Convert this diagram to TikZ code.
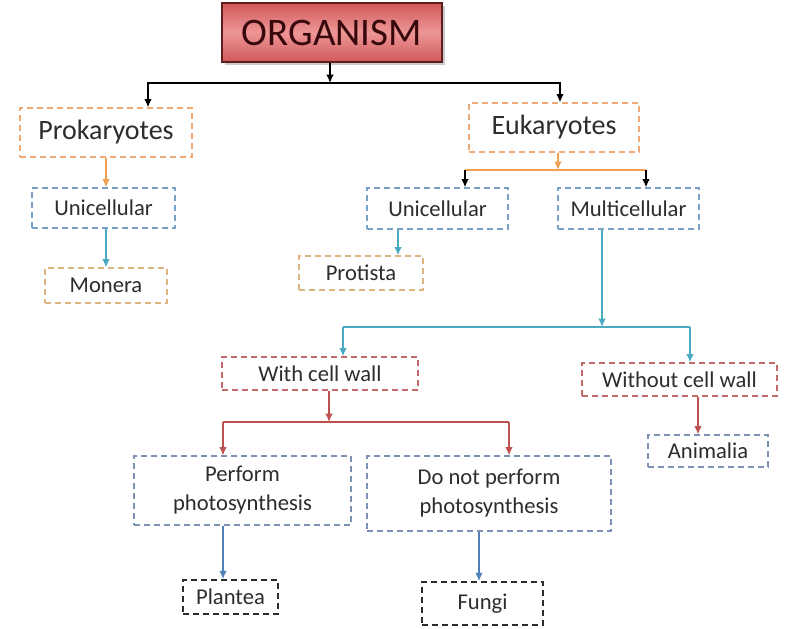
\documentclass[tikz,border=0pt]{standalone}
\usepackage{fontspec}
\setmainfont{Carlito}
\usetikzlibrary{arrows.meta,positioning,calc,shadows}
\definecolor{txt}{RGB}{45,45,45}
\definecolor{orgdark}{RGB}{208,88,90}
\definecolor{orglight}{RGB}{238,150,150}
\definecolor{orgline}{RGB}{95,30,30}
\definecolor{peach}{RGB}{240,170,120}
\definecolor{tan}{RGB}{222,180,128}
\definecolor{skyline}{RGB}{120,160,200}
\definecolor{rose}{RGB}{195,105,105}
\definecolor{slate}{RGB}{125,145,180}
\definecolor{inkgray}{RGB}{45,45,45}
\definecolor{arrorange}{RGB}{240,160,80}
\definecolor{arrteal}{RGB}{75,170,195}
\definecolor{arrred}{RGB}{190,80,80}
\definecolor{arrblue}{RGB}{80,128,185}
\tikzset{
    box/.style = {draw, dash pattern=on 3pt off 2pt, line width=0.6pt, text=txt,
        font=\fontsize{11.3}{14.5}\selectfont, align=center, inner sep=0pt},
    bigbox/.style = {box, font=\fontsize{14}{17}\selectfont},
    orgbox/.style = {draw=orgline, line width=0.8pt, top color=orgdark, bottom color=orgdark,
        middle color=orglight, text={rgb,255:red,55;green,8;blue,12},
        font=\fontsize{19.5}{22}\selectfont, inner sep=0pt,
        drop shadow={shadow xshift=1.5pt, shadow yshift=-1.5pt, fill=black!40}},
    arr/.style = {-{Latex[length=4.2pt,width=3.8pt]}, line width=0.75pt},
    ln/.style = {line width=0.75pt}
}
\begin{document}
\begin{tikzpicture}[x=0.5pt,y=-0.5pt]
    \path[use as bounding box, fill=white] (0,0) rectangle (790,628);

    \node (org) at (332,32.5) [orgbox, minimum width=110pt, minimum height=29.5pt] {ORGANISM};

    \node (prok) at (106,132.5) [bigbox, draw=peach, minimum width=86pt, minimum height=24.5pt] {Prokaryotes};
    \node (euk) at (554,127.5) [bigbox, draw=peach, minimum width=85pt, minimum height=24.5pt] {Eukaryotes};

    \node (uniL) at (103.5,208) [box, draw=skyline, minimum width=71.5pt, minimum height=20pt] {Unicellular};
    \node (mon) at (106,285.5) [box, draw=tan, minimum width=61pt, minimum height=17.5pt] {Monera};
    \node (uniR) at (437.5,208.5) [box, draw=skyline, minimum width=70.5pt, minimum height=20.5pt] {Unicellular};
    \node (multi) at (628.5,208.5) [box, draw=skyline, minimum width=70.5pt, minimum height=20.5pt] {Multicellular};
    \node (prot) at (361,273) [box, draw=tan, minimum width=62pt, minimum height=17pt] {Protista};

    \node (wcw) at (320,373.5) [box, draw=rose, minimum width=98pt, minimum height=16.5pt] {With cell wall};
    \node (wocw) at (679.5,379.5) [box, draw=rose, minimum width=97.5pt, minimum height=16.5pt] {Without cell wall};
    \node (anim) at (708,451) [box, draw=slate, minimum width=60pt, minimum height=16pt] {Animalia};

    \node (perf) at (242.5,490.5) [box, draw=slate, minimum width=108.5pt, minimum height=34.5pt] {Perform\\photosynthesis};
    \node (dnp) at (489,493.5) [box, draw=slate, minimum width=122pt, minimum height=37.5pt] {Do not perform\\photosynthesis};
    \node (plan) at (230.5,597) [box, draw=inkgray, line width=0.85pt, minimum width=47.5pt, minimum height=17pt] {Plantea};
    \node (fungi) at (482.5,603.5) [box, draw=inkgray, line width=0.85pt, minimum width=60.5pt, minimum height=21.5pt] {Fungi};

    % junction points
    \coordinate (jtop) at (330,83);
    \coordinate (ej) at (558,170);
    \coordinate (el) at (465,170);
    \coordinate (er) at (646,170);
    \coordinate (pu) at (398,0);
    \coordinate (mj) at (602,327);
    \coordinate (wl) at (343,327);
    \coordinate (wr) at (690,327);
    \coordinate (cj) at (329,422);
    \coordinate (cl) at (223,422);
    \coordinate (cr) at (509,422);
    \coordinate (aj) at (698,0);
    \coordinate (pp) at (223,0);
    \coordinate (fp) at (479,0);

    \draw[arr] (org.south -| jtop) -- (jtop);
    \draw[arr] (jtop) -| ($(prok.north)+(42,0)$);
    \draw[arr] (jtop) -| ($(euk.north)+(6,0)$);

    \draw[arr, arrorange] (prok.south) -- (prok.south |- uniL.north);
    \draw[arr, arrteal] (mon.north |- uniL.south) -- (mon.north);

    \draw[arr, arrorange] (euk.south -| ej) -- (ej);
    \draw[ln, arrorange] (el) -- (er);
    \draw[arr] (el) -- (el |- uniR.north);
    \draw[arr] (er) -- (er |- multi.north);
    \draw[arr, arrteal] (pu |- uniR.south) -- (pu |- prot.north);

    \draw[arr, arrteal] (mj |- multi.south) -- (mj);
    \draw[ln, arrteal] (wl) -- (wr);
    \draw[arr, arrteal] (wl) -- (wl |- wcw.north);
    \draw[arr, arrteal] (wr) -- (wr |- wocw.north);

    \draw[arr, arrred] (cj |- wcw.south) -- (cj);
    \draw[ln, arrred] (cl) -- (cr);
    \draw[arr, arrred] (cl) -- (cl |- perf.north);
    \draw[arr, arrred] (cr) -- (cr |- dnp.north);
    \draw[arr, arrred] (aj |- wocw.south) -- (aj |- anim.north);

    \draw[arr, arrblue] (pp |- perf.south) -- (pp |- plan.north);
    \draw[arr, arrblue] (fp |- dnp.south) -- (fp |- fungi.north);
\end{tikzpicture}
\end{document}
